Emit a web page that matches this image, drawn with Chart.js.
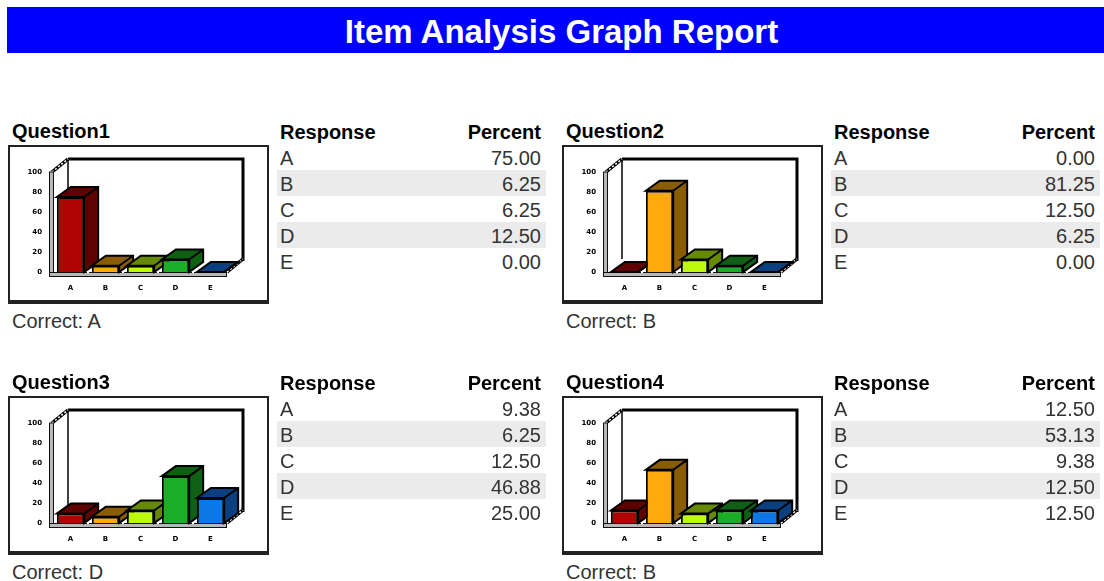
<!DOCTYPE html>
<html>
<head>
<meta charset="utf-8">
<title>Item Analysis Graph Report</title>
<script src="https://cdn.jsdelivr.net/npm/chart.js@4"></script>
<style>
  html, body { margin: 0; padding: 0; background: #fff; overflow: hidden; }
  body { width: 1104px; height: 581px; position: relative; font-family: "Liberation Sans", Arial, sans-serif; color: #000; filter: blur(0.5px); }
  #banner { position: absolute; left: 7px; top: 7px; width: 1097px; height: 46px; background: #0000ff; color: #fff;
    font-size: 33px; font-weight: bold; line-height: 49px; text-align: center; padding-left: 12px; box-sizing: border-box; }
  .question { position: absolute; width: 554px; height: 251px; }
  .qtitle { position: absolute; left: 12px; top: 119px; font-size: 20px; font-weight: bold; line-height: 24px; }
  .frame { position: absolute; left: 8px; top: 145px; width: 261px; height: 159px; box-sizing: border-box;
    border: 2px solid #222; border-bottom-width: 4px; }
  .frame canvas { position: absolute; left: -2px; top: -2px; }
  .correct { position: absolute; left: 12px; top: 309px; font-size: 20px; line-height: 24px; color: #333; }
  table { position: absolute; left: 277px; top: 118px; width: 269px; border-collapse: collapse; font-size: 20px; }
  th, td { height: 26px; padding: 2px 5px 0 3px; line-height: 24px; box-sizing: border-box; }
  th { font-weight: bold; }
  td { color: #333; }
  .resp { text-align: left; }
  .pct { text-align: right; }
  tr.band td { background: #ebebeb; }
</style>
</head>
<body>
<div id="banner">Item Analysis Graph Report</div>
<div id="report"></div>
<script>
const responses = ["A", "B", "C", "D", "E"];
const questionNames = ["Question1", "Question2", "Question3", "Question4"];
const correctAnswers = ["A", "B", "D", "B"];
const question1 = [75.0, 6.25, 6.25, 12.5, 0.0];
const question2 = [0.0, 81.25, 12.5, 6.25, 0.0];
const question3 = [9.38, 6.25, 12.5, 46.88, 25.0];
const question4 = [12.5, 53.13, 9.38, 12.5, 12.5];
const yTicks = [0, 20, 40, 60, 80, 100];

const frontColors = ["#b00404", "#ffa90f", "#bdfb0c", "#1aae26", "#0c78e6"];
const depthColors = ["#5e0202", "#8a5c08", "#668a06", "#0f5f15", "#0a4080"];

const allQuestions = [question1, question2, question3, question4];

// draws the walls, floor and the top/side faces; the fronts come from the bar controller
const fakeDepth = {
  id: "fakeDepth",
  beforeDatasetsDraw(chart) {
    const ctx = chart.ctx;
    const a = chart.chartArea;
    const wallX = 16, wallY = 13;
    const barX = 14, barY = 10;
    const bars = chart.getDatasetMeta(0).data;
    ctx.save();

    // back wall, heavy top and right edges
    ctx.strokeStyle = "#000";
    ctx.lineWidth = 3;
    ctx.beginPath();
    ctx.moveTo(a.left + wallX - 1, a.top - wallY);
    ctx.lineTo(a.right + wallX - 1, a.top - wallY);
    ctx.lineTo(a.right + wallX - 1, a.bottom - wallY + 2);
    ctx.stroke();
    ctx.lineWidth = 1.5;
    ctx.beginPath();
    ctx.moveTo(a.left + wallX - 1, a.top - wallY);
    ctx.lineTo(a.left + wallX - 1, a.bottom - wallY);
    ctx.stroke();

    // dashed diagonals at the top left and bottom right
    [[a.left - 1, a.top, a.left + wallX - 1, a.top - wallY], [a.right - 1, a.bottom, a.right + wallX - 1, a.bottom - wallY]].forEach((d) => {
      ctx.setLineDash([]);
      ctx.strokeStyle = "#000";
      ctx.lineWidth = 3.5;
      ctx.beginPath();
      ctx.moveTo(d[0], d[1]);
      ctx.lineTo(d[2], d[3]);
      ctx.stroke();
      ctx.setLineDash([2, 2]);
      ctx.strokeStyle = "#fff";
      ctx.lineWidth = 1.5;
      ctx.beginPath();
      ctx.moveTo(d[0], d[1]);
      ctx.lineTo(d[2], d[3]);
      ctx.stroke();
    });
    ctx.setLineDash([]);

    // left post and front floor strip
    ctx.fillStyle = "#b8b8b8";
    ctx.strokeStyle = "#111";
    ctx.lineWidth = 1;
    ctx.fillRect(a.left - 3.5, a.top, 4, a.bottom - a.top + 4);
    ctx.strokeRect(a.left - 3.5, a.top, 4, a.bottom - a.top + 4);
    ctx.fillRect(a.left - 3.5, a.bottom, a.right - a.left + 2, 4);
    ctx.strokeRect(a.left - 3.5, a.bottom + 0.5, a.right - a.left + 2, 4);

    // notches on the floor between categories
    ctx.fillStyle = "#fff";
    for (let i = 1; i < bars.length; i++) {
      const mid = (bars[i - 1].x + bars[i].x) / 2;
      ctx.fillRect(mid - 1, a.bottom - 2, 2, 3);
    }

    // faces, left to right
    bars.forEach((bar, i) => {
      const l = bar.x - bar.width / 2;
      const r = bar.x + bar.width / 2;
      ctx.strokeStyle = "#000";
      ctx.lineWidth = 2;
      ctx.fillStyle = depthColors[i];
      ctx.beginPath();
      ctx.moveTo(l, bar.y);
      ctx.lineTo(l + barX, bar.y - barY);
      ctx.lineTo(r + barX, bar.y - barY);
      ctx.lineTo(r + barX, bar.base - barY);
      ctx.lineTo(r, bar.base);
      ctx.lineTo(r, bar.y);
      ctx.closePath();
      ctx.fill();
      ctx.stroke();
      ctx.beginPath();
      ctx.moveTo(r, bar.y);
      ctx.lineTo(r + barX, bar.y - barY);
      ctx.stroke();
    });
    ctx.restore();
  },
};

function questionTable(values) {
  let rows = '<tr><th class="resp">Response</th><th class="pct">Percent</th></tr>';
  responses.forEach((r, i) => {
    const cls = i % 2 === 1 ? ' class="band"' : "";
    rows += "<tr" + cls + '><td class="resp">' + r + '</td><td class="pct">' + values[i].toFixed(2) + "</td></tr>";
  });
  return "<table>" + rows + "</table>";
}

function renderQuestion(index) {
  const values = allQuestions[index];
  const box = document.createElement("div");
  box.className = "question";
  box.style.left = (index % 2) * 554 + "px";
  box.style.top = Math.floor(index / 2) * 251 + "px";
  box.innerHTML =
    '<div class="qtitle">' + questionNames[index] + "</div>" +
    '<div class="frame"><canvas width="261" height="159"></canvas></div>' +
    '<div class="correct">Correct: ' + correctAnswers[index] + "</div>" +
    questionTable(values);
  document.getElementById("report").appendChild(box);

  const ctx = box.querySelector("canvas").getContext("2d");
  new Chart(ctx, {
    type: "bar",
    data: {
      labels: responses,
      datasets: [
        {
          data: values,
          backgroundColor: frontColors,
          borderColor: "#000",
          borderWidth: 2,
          barPercentage: 0.78,
          categoryPercentage: 1,
        },
      ],
    },
    options: {
      responsive: false,
      animation: false,
      layout: { padding: { top: 27, right: 41, left: 0, bottom: 0 } },
      plugins: { legend: { display: false }, tooltip: { enabled: false } },
      scales: {
        y: {
          min: 0,
          max: 100,
          afterBuildTicks: (axis) => { axis.ticks = yTicks.map((v) => ({ value: v })); },
          afterFit: (axis) => { axis.width = 45; },
          grid: { display: false, drawTicks: false },
          border: { display: false },
          ticks: {
            padding: 11,
            color: "#000",
            font: { family: "DejaVu Sans", size: 7, weight: "bold" },
          },
        },
        x: {
          afterFit: (axis) => { axis.height = 32; },
          grid: { display: false, drawTicks: false },
          border: { display: false },
          ticks: {
            padding: 12,
            color: "#000",
            maxRotation: 0,
            font: { family: "DejaVu Sans", size: 7, weight: "bold" },
          },
        },
      },
    },
    plugins: [fakeDepth],
  });
}

allQuestions.forEach((q, i) => renderQuestion(i));
</script>
</body>
</html>
